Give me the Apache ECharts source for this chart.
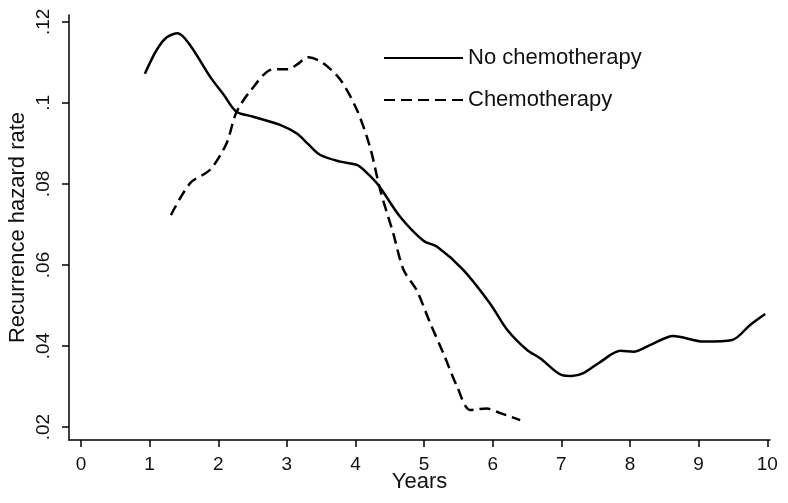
<!DOCTYPE html>
<html>
<head>
<meta charset="utf-8">
<script src="https://cdn.jsdelivr.net/npm/echarts@6/dist/echarts.min.js"></script>
<style>
html,body{margin:0;padding:0;background:#fff;}
#chart{width:788px;height:503px;}
</style>
</head>
<body>
<div id="chart"></div>
<script>
// Data
var seriesNames = ['No chemotherapy', 'Chemotherapy'];
var noChemoYears = [0.93, 1.10, 1.25, 1.41, 1.60, 1.88, 2.08, 2.26, 2.51, 2.90, 3.14, 3.30, 3.48, 3.78, 4.02, 4.15, 4.33, 4.65, 4.99, 5.19, 5.57, 5.96, 6.21, 6.50, 6.69, 7.01, 7.15, 7.32, 7.57, 7.86, 8.05, 8.29, 8.63, 9.07, 9.49, 9.75, 9.97];
var noChemoRate  = [0.1072, 0.1130, 0.1162, 0.1172, 0.1140, 0.1065, 0.1020, 0.0979, 0.0966, 0.0946, 0.0925, 0.0900, 0.0872, 0.0855, 0.0847, 0.0830, 0.0798, 0.0719, 0.0660, 0.0645, 0.0588, 0.0505, 0.0440, 0.0390, 0.0370, 0.0328, 0.0326, 0.0333, 0.0361, 0.0388, 0.0386, 0.0402, 0.0425, 0.0411, 0.0415, 0.0452, 0.0479];
var chemoYears = [1.31, 1.59, 1.88, 2.12, 2.26, 2.46, 2.80, 3.02, 3.15, 3.31, 3.53, 3.78, 4.02, 4.21, 4.36, 4.55, 4.70, 4.89, 5.09, 5.28, 5.48, 5.67, 5.91, 6.10, 6.40];
var chemoRate  = [0.0723, 0.0802, 0.0835, 0.0900, 0.0975, 0.1028, 0.1083, 0.1083, 0.1095, 0.1113, 0.1098, 0.1057, 0.0983, 0.0892, 0.0785, 0.0678, 0.0588, 0.0538, 0.0456, 0.0382, 0.0300, 0.0242, 0.0246, 0.0235, 0.0217];
var xTickValues = [0, 1, 2, 3, 4, 5, 6, 7, 8, 9, 10];
var yTickValues = [0.02, 0.04, 0.06, 0.08, 0.10, 0.12];
var yTickLabels = ['.02', '.04', '.06', '.08', '.1', '.12'];
var xAxisTitle = 'Years';
var yAxisTitle = 'Recurrence hazard rate';

function pairs(xs, ys) { return xs.map(function (x, i) { return [x, ys[i]]; }); }

var font = 'Liberation Sans, Arial, sans-serif';
var chart = echarts.init(document.getElementById('chart'), null, { renderer: 'canvas' });
chart.setOption({
  animation: false,
  backgroundColor: '#ffffff',
  grid: { left: 69, right: 18, top: 15, bottom: 63, containLabel: false, outerBoundsMode: 'none' },
  legend: {
    orient: 'vertical', left: 383, top: 47, padding: 0, itemGap: 20, itemWidth: 79, itemHeight: 14,
    textStyle: { fontFamily: font, fontSize: 22, color: '#111' },
    itemStyle: { opacity: 0 },
    data: seriesNames
  },
  xAxis: {
    type: 'value', min: -0.175, max: 10.04,
    name: xAxisTitle, nameLocation: 'middle', nameGap: 31, nameMoveOverlap: false,
    nameTextStyle: { fontFamily: font, fontSize: 22, color: '#111' },
    axisLine: { show: true, onZero: false, lineStyle: { color: '#000', width: 1.5 } },
    axisTick: { show: true, length: 7, lineStyle: { color: '#000', width: 1.5 }, customValues: xTickValues },
    axisLabel: { fontFamily: font, fontSize: 19, color: '#111', margin: 15, customValues: xTickValues },
    splitLine: { show: false }
  },
  yAxis: {
    type: 'value', min: 0.0168, max: 0.1217,
    name: yAxisTitle, nameLocation: 'middle', nameGap: 40, nameMoveOverlap: false,
    nameTextStyle: { fontFamily: font, fontSize: 22, color: '#111' },
    axisLine: { show: true, onZero: false, lineStyle: { color: '#000', width: 1.5 } },
    axisTick: { show: true, length: 7, lineStyle: { color: '#000', width: 1.5 }, customValues: yTickValues },
    axisLabel: {
      fontFamily: font, fontSize: 19, color: '#111', margin: 16, rotate: 90,
      customValues: yTickValues,
      formatter: function (v) {
        var i = yTickValues.findIndex(function (t) { return Math.abs(t - v) < 1e-9; });
        return i >= 0 ? yTickLabels[i] : '';
      }
    },
    splitLine: { show: false }
  },
  series: [
    {
      name: seriesNames[0], type: 'line', data: pairs(noChemoYears, noChemoRate),
      smooth: 0.3, symbol: 'none', showSymbol: false,
      lineStyle: { color: '#000', width: 2.5, type: 'solid' },
      itemStyle: { color: '#000' }
    },
    {
      name: seriesNames[1], type: 'line', data: pairs(chemoYears, chemoRate),
      smooth: 0.3, symbol: 'none', showSymbol: false,
      lineStyle: { color: '#000', width: 2.5, type: [11, 6] },
      itemStyle: { color: '#000' }
    }
  ]
});
</script>
</body>
</html>
